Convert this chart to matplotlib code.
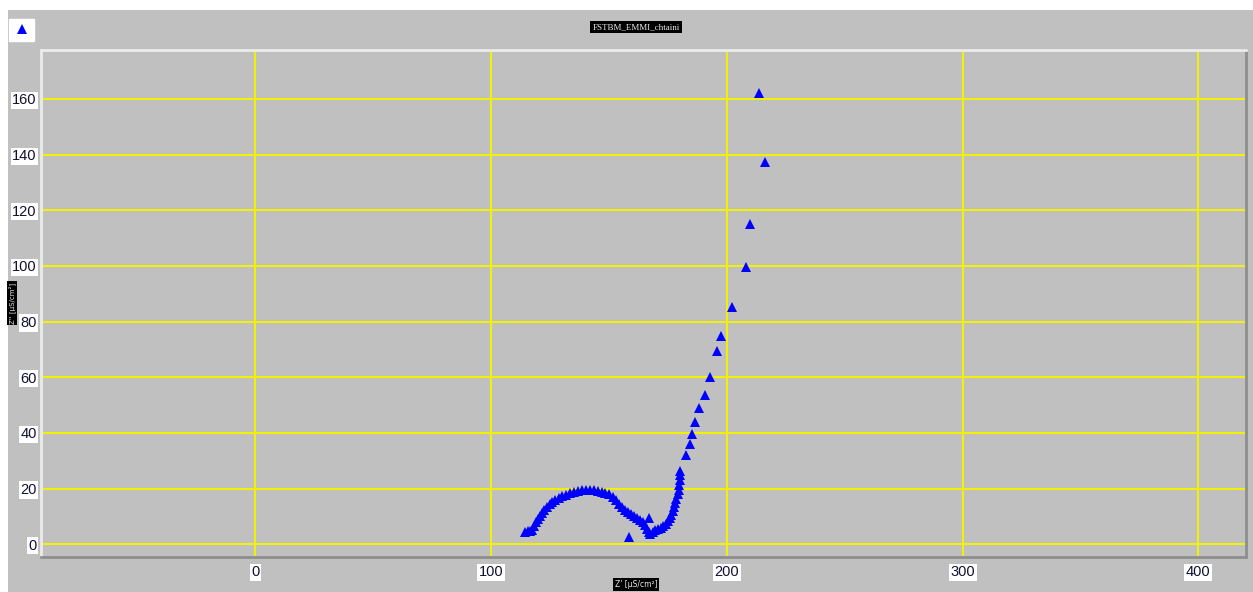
'''
Nyquist plot for FSTBM_EMMI_chtaini (admittance, uS/cm^2)
'''

import matplotlib
matplotlib.use( 'Agg' )
import matplotlib.pyplot as plt
from matplotlib.patches import Rectangle
from matplotlib.lines import Line2D

# Z' [uS/cm^2]
z_re = [ 114.5, 115.5, 116.5, 117.5, 118.2, 119.0, 119.8, 120.6, 121.5, 122.5,
         123.6, 124.8, 126.0, 127.3, 128.7, 130.2, 131.7, 133.3, 135.0, 136.7,
         138.4, 140.1, 141.8, 143.5, 145.2, 146.9, 148.5, 150.1, 151.6, 153.0,
         154.3, 155.6, 156.9, 158.2, 159.5, 160.8, 162.0, 163.2, 164.3, 165.3,
         166.2, 166.8, 167.5, 168.5, 169.6, 170.8, 172.0, 173.0, 174.0, 174.9,
         175.7, 176.4, 177.0, 177.6, 178.1, 178.6, 179.1, 179.5, 179.8, 180.0,
         180.1, 180.2, 158.5, 167.0,
         182.7, 184.4, 185.3, 186.6, 188.3, 190.8, 193.0, 195.9, 197.6, 202.3,
         208.0, 210.0, 216.2, 213.5 ]

# Z'' [uS/cm^2]
z_im = [ 4.5, 4.8, 4.6, 5.0, 6.5, 7.8, 9.0, 10.2, 11.3, 12.4,
         13.4, 14.3, 15.1, 15.8, 16.5, 17.2, 17.8, 18.3, 18.8, 19.2,
         19.5, 19.6, 19.5, 19.4, 19.2, 18.9, 18.5, 17.9, 17.1, 15.9,
         14.5, 13.3, 12.4, 11.6, 10.9, 10.3, 9.5, 8.7, 7.8, 6.8,
         5.6, 4.4, 3.8, 4.5, 5.0, 5.3, 5.8, 6.5, 7.3, 8.3,
         9.4, 10.6, 11.9, 13.3, 14.8, 16.4, 18.0, 19.6, 21.3, 23.0,
         24.7, 26.3, 2.5, 9.5,
         32.0, 36.0, 39.5, 44.0, 48.8, 53.5, 60.0, 69.6, 75.0, 85.3,
         99.7, 115.0, 137.5, 162.0 ]

x_ticks = [ 0, 100, 200, 300, 400 ]
y_ticks = [ 0, 20, 40, 60, 80, 100, 120, 140, 160 ]

W, H = 1253, 592
fig = plt.figure( figsize = ( W / 100, H / 100 ), dpi = 100, facecolor = 'white' )

# grey panel behind everything
fig.patches.append( Rectangle( ( 8 / W, 0 ), 1 - 8 / W, 1 - 10 / H,
                               transform = fig.transFigure, facecolor = '#c0c0c0',
                               edgecolor = 'none', zorder = -5 ) )

ax = fig.add_axes( [ 41 / W, 35 / H, 1205 / W, 507 / H ] )
ax.set_facecolor( '#c0c0c0' )

ax.plot( z_re, z_im, linestyle = 'none', marker = '^', markersize = 6.5,
         color = '#0000ff', markeredgewidth = 0 )

ax.set_xlim( -90.9, 420.2 )
ax.set_ylim( -4.6, 177.6 )
ax.set_xticks( x_ticks )
ax.set_yticks( y_ticks )
ax.grid( True, color = '#f2f200', linewidth = 1.2, antialiased = False )
ax.set_axisbelow( True )

for side in ( 'top', 'left' ):
    ax.spines[ side ].set_color( '#ebebeb' )
    ax.spines[ side ].set_linewidth( 2 )
for side in ( 'bottom', 'right' ):
    ax.spines[ side ].set_color( '#8e8e8e' )
    ax.spines[ side ].set_linewidth( 2 )

tick_font = [ 'Liberation Sans Narrow', 'Liberation Sans' ]
ax.tick_params( length = 0, labelsize = 10.5, labelcolor = '#101030' )
ax.tick_params( axis = 'x', pad = 6 )
ax.tick_params( axis = 'y', pad = 3 )
for lab in ax.get_xticklabels() + ax.get_yticklabels():
    lab.set_family( tick_font )
    lab.set_bbox( dict( facecolor = 'white', edgecolor = 'none', pad = 1.2 ) )

# title and axis labels in black boxes
box = dict( facecolor = 'black', edgecolor = 'none', pad = 1.5 )
fig.text( 636 / W, 1 - 27 / H, 'FSTBM_EMMI_chtaini', color = '#e8e8e8',
          family = 'Liberation Serif', fontsize = 6.5, ha = 'center', va = 'center',
          bbox = box )
fig.text( 12 / W, 1 - 303 / H, "Z'' [µS/cm²]", color = '#e8e8e8',
          family = 'DejaVu Sans', fontsize = 5, ha = 'center', va = 'center',
          rotation = 90, bbox = dict( facecolor = 'black', edgecolor = 'none', pad = 1 ) )
fig.text( 636 / W, 3 / H, "Z' [µS/cm²]", color = '#e8e8e8',
          family = 'DejaVu Sans', fontsize = 5.5, ha = 'center', va = 'bottom',
          bbox = box )

# legend swatch
handle = Line2D( [], [], linestyle = 'none', marker = '^', markersize = 6.5,
                 color = '#0000ff', markeredgewidth = 0 )
fig.legend( handles = [ handle ], labels = [ '' ], loc = 'upper left',
            bbox_to_anchor = ( 9 / W, 1 - 19 / H ), frameon = True, fancybox = False,
            edgecolor = 'white', facecolor = 'white', framealpha = 1,
            borderpad = 0.3, handlelength = 1.2, handletextpad = 0, borderaxespad = 0 )

fig.savefig( 'out.png', dpi = 100, facecolor = 'white' )
